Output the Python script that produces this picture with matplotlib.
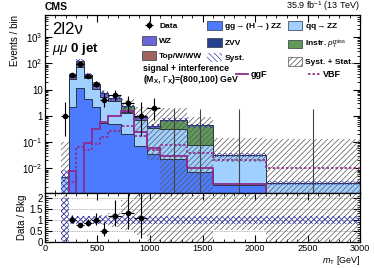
import matplotlib
matplotlib.use("Agg")
import matplotlib.pyplot as plt
import matplotlib.ticker as mticker
from matplotlib.patches import Patch
from matplotlib.lines import Line2D
import numpy as np

plt.rcParams["font.family"] = ["Liberation Sans", "DejaVu Sans"]
plt.rcParams["mathtext.fontset"] = "custom"
plt.rcParams["mathtext.rm"] = "Liberation Sans"
plt.rcParams["mathtext.it"] = "Liberation Sans:italic"
plt.rcParams["mathtext.bf"] = "Liberation Sans:bold"
plt.rcParams["hatch.linewidth"] = 0.5

# bin edges in mT [GeV]
edges = np.array([150, 225, 300, 375, 450, 525, 600, 725, 850, 975, 1100, 1350, 1600, 2100, 3000])

# background components (events / bin)
gg_zz = [0, 2.2, 12, 4.3, 2.2, 0.55, 0.5, 0.2, 0.07, 0.034, 0.023, 0.007, 0.0024, 0]
qq_zz = [0.0045, 22.8, 61, 24.2, 8.0, 4.7, 3.2, 1.1, 0.6, 0.3, 0.28, 0.068, 0.029, 0.0027]
zvv = [0, 0.5, 2, 0.6, 0.4, 0.2, 0.15, 0.05, 0.03, 0.016, 0.005, 0.002, 0.0006, 0]
wz = [0, 5, 20, 5, 3.5, 1.8, 1.0, 0.35, 0.2, 0.07, 0.015, 0.003, 0.001, 0.0001]
top_ww = [0, 2, 10, 1.5, 0.8, 0.2, 0.05, 0, 0, 0, 0, 0, 0, 0]
instr = [0, 3, 15, 2, 1.1, 0.25, 0.1, 0.6, 0, 0, 0.39, 0.35, 0, 0]

# signal + interference
ggf = [0, 0.008, 0, 0.09, 0.33, 0.6, 1.0, 1.5, 0.25, 0.06, 0.03, 0.01, 0.0026, 0]
vbf = [0, 0.003, 0.067, 0.048, 0.084, 0.15, 0.26, 0.4, 0.17, 0.05, 0.08, 0.04, 0.021, 0.01]

# data with asymmetric poisson errors
data = np.array([1, 36, 92, 33, 16, 4, 6, 3, 1, 2, 0, 0, 0, 0], dtype=float)
err_lo = np.array([0.83, 5.9, 9.6, 5.7, 3.9, 1.91, 2.38, 1.63, 0.83, 1.29, 0, 0, 0, 0])
err_hi = np.array([2.30, 7.0, 10.6, 6.8, 5.1, 3.16, 3.58, 2.92, 2.30, 2.64, 1.84, 1.84, 1.84, 1.84])

# relative uncertainty bands (down, up)
tot_dn = [0.0, 0.85, 0.85, 0.84, 0.80, 0.78, 0.70, 0.55, 0.30, 0.05, 0.0, 0.0, 0.55, 0.0]
tot_up = [22, 1.15, 1.15, 1.16, 1.20, 1.22, 1.30, 1.90, 2.50, 5.0, 2.8, 2.15, 4.5, 46]
sys_dn = [0.0, 0.82, 0.82, 0.82, 0.82, 0.82, 0.82, 0.82, 0.82, 0.82, 0.82, 0.82, 0.82, 0.82]
sys_up = [2.0, 1.18, 1.18, 1.18, 1.18, 1.18, 1.18, 1.18, 1.18, 1.18, 1.18, 1.18, 1.18, 1.18]

stack = [
    (gg_zz, "#4d7bff", "gg"),
    (qq_zz, "#9fd0ff", "qq"),
    (zvv, "#26408f", "ZVV"),
    (wz, "#6a66d6", "WZ"),
    (top_ww, "#a0655f", "Top/W/WW"),
    (instr, "#5f9a5b", "Instr"),
]

centers = 0.5 * (edges[1:] + edges[:-1])
half = 0.5 * np.diff(edges)
floor = 1e-4

fig = plt.figure(figsize=(3.74, 2.68), dpi=100)
ax = fig.add_axes([0.120, 0.278, 0.843, 0.666])
axr = fig.add_axes([0.120, 0.097, 0.843, 0.181], sharex=ax)

# stacked backgrounds
bottom = np.zeros(len(centers))
h = {}
for vals, col, key in stack:
    top = bottom + np.array(vals)
    ax.stairs(top, edges, baseline=np.maximum(bottom, floor), fill=True,
              facecolor=col, edgecolor="none", zorder=2)
    ax.stairs(top, edges, baseline=None, color="#2b3540", lw=0.7, zorder=2.5)
    h[key] = Patch(facecolor=col, edgecolor="#2b3540", lw=0.5)
    bottom = top
total = bottom

# uncertainty bands
ax.stairs(total * np.array(tot_up), edges, baseline=np.maximum(total * np.array(tot_dn), floor),
          fill=True, facecolor="none", edgecolor="#555555", hatch="//////", lw=0, zorder=3)
ax.stairs(total * np.array(sys_up), edges, baseline=np.maximum(total * np.array(sys_dn), floor),
          fill=True, facecolor="none", edgecolor="#3a3aa8", hatch="xxxxxx", lw=0, zorder=3)

# signal
sig_col = "#8e2a8c"
ax.stairs(np.maximum(ggf, floor), edges, baseline=None, color=sig_col, lw=1.3, zorder=4)
ax.stairs(np.maximum(vbf, floor), edges, baseline=None, color=sig_col, lw=1.2, ls=(0, (1.5, 1.2)), zorder=4)

# data
nz = data > 0
dat = ax.errorbar(centers[nz], data[nz], yerr=[err_lo[nz], err_hi[nz]], xerr=half[nz],
                  fmt="o", color="black", ms=3, lw=0.8, capsize=0, zorder=5)
ax.vlines(centers[~nz], floor, err_hi[~nz], color="#444444", lw=0.8, zorder=5)

ax.set_yscale("log")
ax.set_ylim(1.1e-3, 7e3)
ax.set_xlim(0, 3000)
labels = {1e-2: r"$10^{-2}$", 1e-1: r"$10^{-1}$", 1: "1", 10: "10", 1e2: r"$10^{2}$", 1e3: r"$10^{3}$"}
ax.yaxis.set_major_locator(mticker.FixedLocator(list(labels.keys())))
ax.yaxis.set_major_formatter(mticker.FuncFormatter(lambda v, p: labels.get(v, "")))
ax.yaxis.set_minor_locator(mticker.LogLocator(base=10, subs=np.arange(2, 10), numticks=20))
ax.yaxis.set_minor_formatter(mticker.NullFormatter())
ax.set_ylabel("Events / bin", fontsize=7, loc="top", labelpad=2)
plt.setp(ax.get_xticklabels(), visible=False)

# ratio panel
ratio = data / total
rmask = nz & (ratio < 2.2)
for yv in [0.5, 1, 1.5, 2]:
    axr.axhline(yv, color="#999999", lw=0.6, ls=(0, (1, 1)), zorder=1)
axr.stairs(np.array(tot_up), edges, baseline=np.array(tot_dn), fill=True, facecolor="none",
           edgecolor="#555555", hatch="//////", lw=0, zorder=2)
axr.stairs(np.array(sys_up), edges, baseline=np.array(sys_dn), fill=True, facecolor="none",
           edgecolor="#3a3aa8", hatch="xxxxxx", lw=0, zorder=3)
axr.errorbar(centers[rmask], ratio[rmask], yerr=[err_lo[rmask] / total[rmask], err_hi[rmask] / total[rmask]],
             xerr=half[rmask], fmt="o", color="black", ms=3, lw=0.8, capsize=0, zorder=5)
axr.set_ylim(0, 2.2)
axr.yaxis.set_major_locator(mticker.FixedLocator([0, 0.5, 1, 1.5, 2]))
axr.yaxis.set_major_formatter(mticker.FuncFormatter(lambda v, p: f"{v:g}"))
axr.yaxis.set_minor_locator(mticker.MultipleLocator(0.1))
axr.xaxis.set_major_locator(mticker.MultipleLocator(500))
axr.xaxis.set_minor_locator(mticker.MultipleLocator(100))
axr.set_ylabel("Data / Bkg", fontsize=7, labelpad=2)
axr.set_xlabel(r"$m_{\mathrm{T}}$ [GeV]", fontsize=6.5, loc="right")
axr.xaxis.set_label_coords(1.0, -0.245)

for a in (ax, axr):
    a.tick_params(which="both", direction="in", top=True, right=True, labelsize=7, pad=1.5)
    a.tick_params(which="major", length=5, width=0.8)
    a.tick_params(which="minor", length=2.5, width=0.6)
    for s in a.spines.values():
        s.set_linewidth(0.9)
axr.tick_params(axis="x", labelsize=6.6, pad=1.2)

# legends
sys_h = Patch(facecolor="white", edgecolor="#3a3aa8", hatch="\\\\\\\\\\\\", lw=0)
tot_h = Patch(facecolor="white", edgecolor="#555555", hatch="//////", lw=0.5)
order = [dat, h["WZ"], h["Top/W/WW"],
         h["gg"], h["ZVV"], sys_h,
         h["qq"], h["Instr"], tot_h]
names = ["Data", "WZ", "Top/W/WW",
         r"gg$\rightarrow$(H$\rightarrow$) ZZ", "ZVV", "Syst.",
         r"qq$\rightarrow$ZZ", r"Instr. $p_{\mathrm{T}}^{\mathrm{miss}}$", "Syst. + Stat."]
leg = ax.legend(order, names, ncol=3, loc="upper left", bbox_to_anchor=(0.29, 0.998),
                frameon=False, prop={"size": 6, "weight": "bold"}, handlelength=1.7,
                handleheight=1.2, columnspacing=0.6, handletextpad=0.35, labelspacing=0.7,
                borderpad=0.2)
ax.add_artist(leg)
sig_h = [Line2D([], [], color=sig_col, lw=1.3), Line2D([], [], color=sig_col, lw=1.2, ls=(0, (1.5, 1.2)))]
ax.legend(sig_h, ["ggF", "VBF"], ncol=2, loc="upper left", bbox_to_anchor=(0.585, 0.725),
          frameon=False, prop={"size": 6.5, "weight": "bold"}, handlelength=1.33,
          columnspacing=4.6, handletextpad=0.3, borderpad=0.2)

ax.text(0.311, 0.70, "signal + interference", transform=ax.transAxes, fontsize=6.3,
        fontweight="bold", va="center")
ax.text(0.311, 0.638, r"(M$_{\mathbf{X}}$, $\Gamma_{\mathbf{X}}$)=(800,100) GeV", transform=ax.transAxes,
        fontsize=6.3, fontweight="bold", va="center")
ax.text(0.022, 0.96, "2l2ν", transform=ax.transAxes, fontsize=12, va="top")
ax.text(0.022, 0.855, r"$\mu\mu$ 0 jet", transform=ax.transAxes, fontsize=9.5, va="top", fontweight="bold")

fig.text(0.120, 0.955, "CMS", fontsize=7.5, fontweight="bold", va="bottom", ha="left")
fig.text(0.963, 0.952, r"35.9 fb$^{-1}$ (13 TeV)", fontsize=6.5, va="bottom", ha="right")

fig.savefig("out.png", dpi=100)
